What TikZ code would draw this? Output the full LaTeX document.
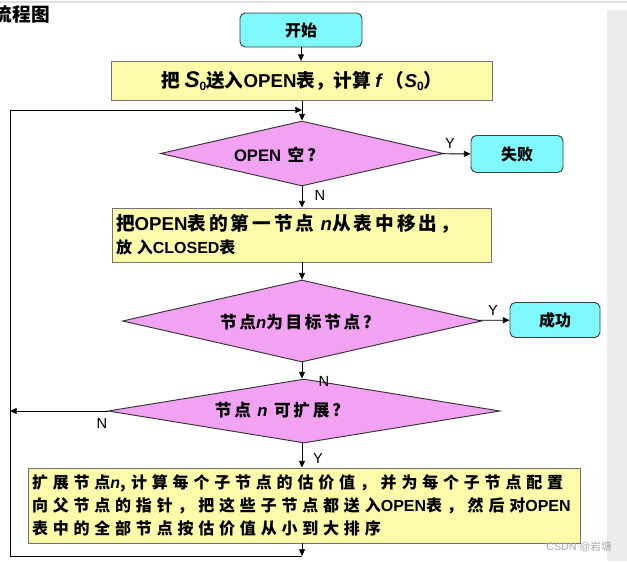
\documentclass[tikz,border=0pt]{standalone}
\usepackage{fontspec}
\setmainfont{Noto Sans CJK SC}
\newfontfamily\spacedcjk{Noto Sans CJK SC}[LetterSpace=30]
\newfontfamily\lightcjk{Noto Sans CJK SC}[LetterSpace=16]
\newfontfamily\latinsans{Liberation Sans}
\newcommand\itvar[1]{{\latinsans\bfseries\itshape #1}}
\newcommand\latw[1]{{\latinsans\bfseries #1}}
\newcommand\lowsub[1]{\raisebox{-0.35ex}{\latinsans\fontsize{9}{9}\selectfont #1}}
\usetikzlibrary{shapes.geometric,arrows.meta}
\definecolor{termcyan}{HTML}{7EF8FA}
\definecolor{procyellow}{HTML}{FCFBAA}
\definecolor{decviolet}{HTML}{F2A2F2}
\tikzset{
  termbox/.style={draw=black!75, fill=termcyan, rounded corners=4pt, line width=0.7pt,
    font=\bfseries\fontsize{12}{14}\selectfont},
  procbox/.style={draw=black!55, fill=procyellow, line width=0.7pt},
  decision/.style={diamond, aspect=6, draw=black!80, fill=decviolet, line width=0.7pt, inner sep=0pt},
  dectext/.style={inner sep=0pt, font=\lightcjk\bfseries\fontsize{12.5}{14}\selectfont},
  yn/.style={font=\latinsans\fontsize{11}{12}\selectfont, inner sep=0pt},
  flow/.style={-{Triangle[length=5pt,width=4.5pt]}, line width=0.6pt},
}
\begin{document}
\begin{tikzpicture}[x=0.75pt,y=-0.75pt]
    \useasboundingbox (0,0) rectangle (627,561);
    % page background bits
    \draw[black!12, line width=1.5pt] (0,2) -- (627,2);
    \fill[black!7] (607,10) rectangle (627,561);
    \node[anchor=east, inner sep=0pt, font=\bfseries\fontsize{14}{16}\selectfont] (title) at (50,14) {流程图};

    % boxes
    \node[termbox, minimum width=91.5pt, minimum height=25.5pt] (start) at (301,30) {开始};
    \node[procbox, minimum width=285.75pt, minimum height=29.25pt,
      font=\bfseries\fontsize{14}{16}\selectfont] (init) at (302,81)
      {把 {\latinsans\itshape\fontsize{17}{17}\selectfont S}\lowsub{0}送入\latw{OPEN}表，计算 \itvar{f} （{\latinsans\itshape S}\lowsub{0}）};
    \node[decision, minimum width=212.25pt, minimum height=48.75pt] (empty) at (302,153.5) {};
    \node[dectext] (emptytxt) at (275,155) {\latw{OPEN} 空?};
    \node[termbox, minimum width=69pt, minimum height=27.75pt] (fail) at (517,154) {失败};
    \node[procbox, minimum width=284.25pt, minimum height=40.5pt, inner xsep=2.5pt,
      text width=279pt, align=left, font=\lightcjk\bfseries\fontsize{14}{17}\selectfont] (move) at (302,235)
      {把\latw{OPEN}表的第一节点 \itvar{n}从表中移出，\\
       {\spacedcjk\fontsize{12}{13}\selectfont 放入\latw{CLOSED}表}};
    \node[decision, minimum width=269.25pt, minimum height=61.5pt] (goal) at (302,321) {};
    \node[dectext] (goaltxt) at (296,322) {节点\itvar{n}为目标节点?};
    \node[termbox, minimum width=67.5pt, minimum height=26.25pt] (succ) at (555,320) {成功};
    \node[decision, minimum width=294pt, minimum height=48pt] (expand) at (304,411) {};
    \node[dectext] (expandtxt) at (278,410) {节点 \itvar{n} 可扩展?};
    \node[procbox, minimum width=414pt, minimum height=56.25pt, inner xsep=3pt,
      text width=408pt, align=left, font=\spacedcjk\bfseries\fontsize{12}{17}\selectfont] (sort) at (304,505.5)
      {扩展节点\itvar{n}, 计算每个子节点的估价值，并为每个子节点配置\\向父节点的指针，把这些子节点都送入\latw{OPEN}表，然后对\latw{OPEN}\\表中的全部节点按估价值从小到大排序};

    % loop corners
    \coordinate (loopbl) at (10,556);
    \coordinate (looptl) at (10,110);
    \coordinate (joinpt) at (302,110);

    % connectors
    \draw[flow] (start) -- (start |- init.north);
    \draw[flow] (init.south -| empty) -- (empty);
    \draw[flow] (empty) -- (fail);
    \draw[flow] (empty) -- (move);
    \draw[flow] (move) -- (goal);
    \draw[flow] (goal) -- (succ);
    \draw[flow] (goal.south) -- (goal.south |- expand.north);
    \draw[flow] (expand.south -| goal.south) -- (goal.south |- sort.north);
    \draw[flow] (expand.west) -- (expand.west -| loopbl);
    \draw[flow] (goal.south |- sort.south) -- (goal.south |- loopbl);
    \draw[line width=0.6pt] (goal.south |- loopbl) -- (loopbl) -- (looptl);
    \draw[flow] (looptl) -- (joinpt);

    % Y / N labels
    \node[yn] (y1) at (450,143) {Y};
    \node[yn] (n1) at (320,195) {N};
    \node[yn] (y2) at (493,310) {Y};
    \node[yn] (n2) at (324,381) {N};
    \node[yn] (n3) at (102,423) {N};
    \node[yn] (y3) at (318,458) {Y};

    \node[anchor=east, inner sep=0pt, text=black!35, font=\latinsans\fontsize{8}{9}\selectfont] (mark) at (612,547) {CSDN @\fontspec{Noto Sans CJK SC}岩塘};
\end{tikzpicture}
\end{document}
